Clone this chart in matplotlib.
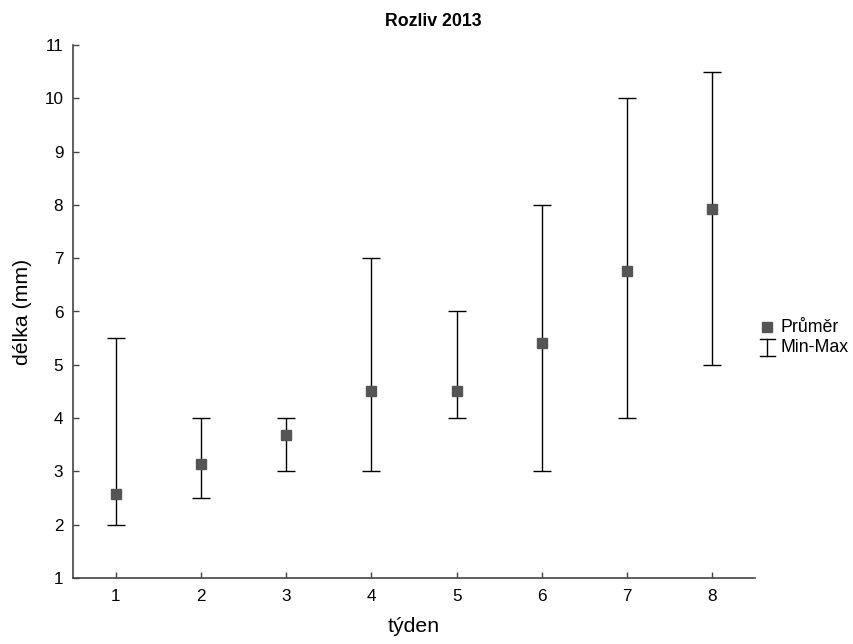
import matplotlib
matplotlib.use("Agg")
import matplotlib.pyplot as plt
from matplotlib.lines import Line2D

plt.rcParams["font.family"] = ["Liberation Sans", "DejaVu Sans"]

# weekly length measurements
weeks = [1, 2, 3, 4, 5, 6, 7, 8]
mean_len = [2.58, 3.13, 3.68, 4.50, 4.51, 5.41, 6.76, 7.92]
min_len = [2.0, 2.5, 3.0, 3.0, 4.0, 3.0, 4.0, 5.0]
max_len = [5.5, 4.0, 4.0, 7.0, 6.0, 8.0, 10.0, 10.5]

GRAY = "#555555"
AXIS = "#444444"

fig = plt.figure(figsize=(8.54, 6.44), dpi=100)
ax = fig.add_axes([73 / 854, 66 / 644, 682 / 854, 533 / 644])

lo = [m - a for m, a in zip(mean_len, min_len)]
hi = [b - m for m, b in zip(mean_len, max_len)]
ax.errorbar(weeks, mean_len, yerr=[lo, hi], fmt="none",
            ecolor="black", elinewidth=1.0, capsize=6.4, capthick=1.0, zorder=2)
ax.plot(weeks, mean_len, linestyle="none", marker="s", markersize=7,
        color=GRAY, markeredgecolor=GRAY, zorder=3)

ax.set_xlim(0.5, 8.5)
ax.set_ylim(1, 11)
ax.set_xticks(weeks)
ax.set_yticks(range(1, 12))
ax.tick_params(direction="in", length=4, width=1, color=AXIS, labelsize=12.3)
ax.tick_params(axis="x", pad=8)
ax.tick_params(axis="y", pad=7)
for side in ("top", "right"):
    ax.spines[side].set_visible(False)
for side in ("left", "bottom"):
    ax.spines[side].set_color(AXIS)
    ax.spines[side].set_linewidth(1.2)

ax.set_xlabel("týden", fontsize=15.3, labelpad=9)
ax.set_ylabel("délka (mm)", fontsize=15.3, labelpad=9)
fig.text(433 / 854, 1 - 21 / 644, "Rozliv 2013", ha="center", va="center",
         fontsize=12.8, fontweight="bold")

# legend drawn by hand in figure pixels
def fx(px):
    return px / 854


def fy(py):
    return 1 - py / 644


fig.add_artist(Line2D([fx(767)], [fy(327)], marker="s", markersize=7,
                      color=GRAY, linestyle="none"))
fig.add_artist(Line2D([fx(767), fx(767)], [fy(339), fy(356)], color="black", lw=1))
fig.add_artist(Line2D([fx(760), fx(775)], [fy(339), fy(339)], color="black", lw=1))
fig.add_artist(Line2D([fx(760), fx(775)], [fy(356), fy(356)], color="black", lw=1))
fig.text(fx(781), fy(327), "Průměr", ha="left", va="center", fontsize=12.8)
fig.text(fx(781), fy(348), "Min-Max", ha="left", va="center", fontsize=12.8)

fig.savefig("out.png", dpi=100, facecolor="white")
